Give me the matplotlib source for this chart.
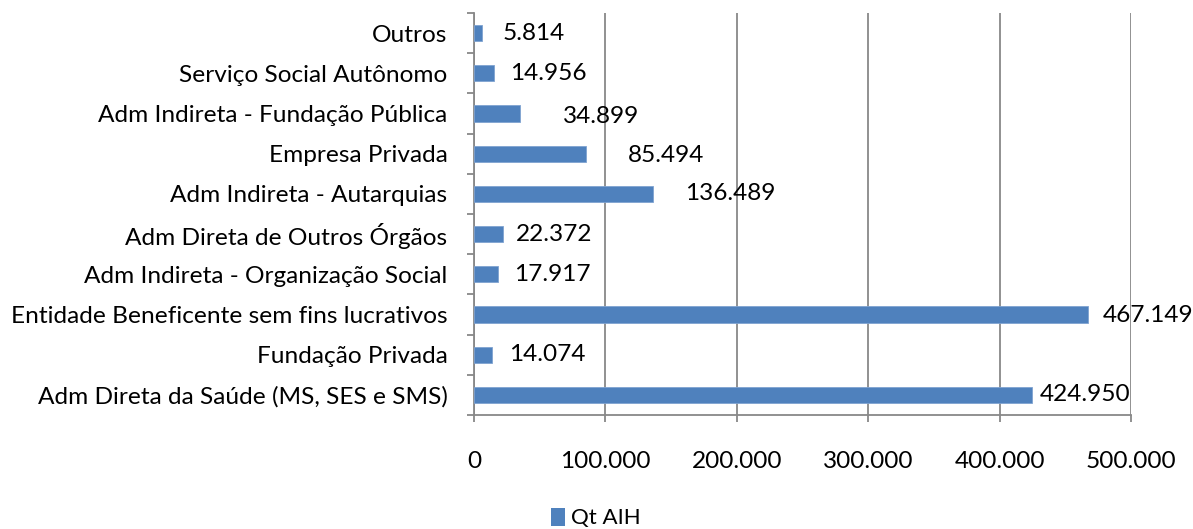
import matplotlib
matplotlib.use("Agg")
import matplotlib.pyplot as plt
from matplotlib.ticker import FuncFormatter
from matplotlib.patches import Patch

plt.rcParams['font.family'] = ['Lato', 'DejaVu Sans']

categories = [
    "Adm Direta da Saúde (MS, SES e SMS)",
    "Fundação Privada",
    "Entidade Beneficente sem fins lucrativos",
    "Adm Indireta - Organização Social",
    "Adm Direta de Outros Órgãos",
    "Adm Indireta - Autarquias",
    "Empresa Privada",
    "Adm Indireta - Fundação Pública",
    "Serviço Social Autônomo",
    "Outros",
]
values = [424950, 14074, 467149, 17917, 22372, 136489, 85494, 34899, 14956, 5814]
series_name = "Qt AIH"
xticks = [0, 100000, 200000, 300000, 400000, 500000]

# label offsets (points) from bar end, as placed in the original
label_dx = [5, 12, 11, 12, 9, 23, 30, 31, 12, 15]
label_dy = [0, 0, -1, 0, 0, 0, -1, -2, 0, 0]

def fmt(v):
    return f"{int(v):,}".replace(",", ".")

W, H, DPI = 1193, 529, 100
fig = plt.figure(figsize=(W / DPI, H / DPI), dpi=DPI)
ax = fig.add_axes([474 / W, 1 - 415 / H, (1131 - 474) / W, (415 - 13) / H])

bar_color = "#4F81BD"
grid_color = "#888888"
fs = 17.6

y = list(range(len(categories)))
ax.barh(y, values, height=0.4, color=bar_color, edgecolor="#7FA3D1", linewidth=0.6, zorder=3)

ax.set_xlim(0, 500000)
ax.set_ylim(-0.5, len(categories) - 0.5)
ax.set_xticks(xticks)
ax.xaxis.set_major_formatter(FuncFormatter(lambda v, p: fmt(v)))
ax.grid(axis="x", color=grid_color, linewidth=1.3, zorder=0)
ax.tick_params(axis="x", length=5, width=1.3, color=grid_color, pad=21, labelsize=fs)

# y: tick marks at category boundaries, labels at centers
ax.set_yticks([i - 0.5 for i in range(len(categories) + 1)])
ax.set_yticklabels([])
ax.set_yticks(y, minor=True)
ax.set_yticklabels(categories, minor=True, fontsize=fs)
ax.tick_params(axis="y", which="major", length=5, width=1.3, color=grid_color)
ax.tick_params(axis="y", which="minor", length=0, pad=19)

for s in ["top", "right"]:
    ax.spines[s].set_visible(False)
for s in ["left", "bottom"]:
    ax.spines[s].set_color(grid_color)
    ax.spines[s].set_linewidth(1.3)

for yi, v, dx, dy in zip(y, values, label_dx, label_dy):
    ax.annotate(fmt(v), xy=(v, yi), xytext=(dx, dy), textcoords="offset points",
                ha="left", va="center", fontsize=fs, color="black", zorder=4,
                annotation_clip=False)

fig.legend(handles=[Patch(facecolor=bar_color, edgecolor="none", label=series_name)],
           loc="center", bbox_to_anchor=(596 / W, 1 - 518 / H), frameon=False,
           fontsize=16, handlelength=0.6, handleheight=0.9, handletextpad=0.3)

fig.savefig("out.png", dpi=DPI)
